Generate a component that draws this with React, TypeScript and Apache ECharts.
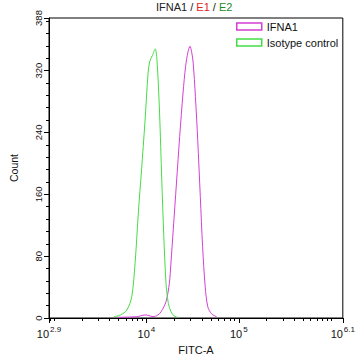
import React, { useEffect, useRef } from "react";
import * as echarts from "echarts";

// FITC-A axis in log10 units
const xMin = 2.945;
const xMax = 6.126;
const xMajorTicks = [2.945, 4, 5, 6.126];
const xMajorExponents = ["2.9", "4", "5", "6.1"];

const yMin = 0;
const yMax = 388;
const yTickLabels = [0, 80, 160, 240, 320, 388];
const yMinorTicks = [16, 32, 48, 64, 96, 112, 128, 144, 176, 192, 208, 224, 256, 272, 288, 304, 336, 352, 368, 384];

// Isotype control (green)
const isotypeLogX = [3.647, 3.718, 3.788, 3.841, 3.877, 3.912, 3.947, 3.983, 4.018, 4.036, 4.064, 4.095, 4.116, 4.142, 4.166, 4.188, 4.212, 4.237, 4.265, 4.3, 4.336];
const isotypeCount = [1.7, 3.9, 10.4, 27.6, 70.9, 135.6, 191.7, 252.2, 317, 332, 339.4, 348, 330, 265, 178.8, 105.3, 44.9, 19, 8.2, 2.6, 0.9];

// IFNA1 (magenta)
const ifna1LogX = [3.682, 3.894, 3.983, 4.018, 4.071, 4.124, 4.159, 4.212, 4.248, 4.265, 4.29, 4.325, 4.36, 4.396, 4.424, 4.449, 4.471, 4.488, 4.506, 4.53, 4.555, 4.583, 4.608, 4.636, 4.664, 4.706, 4.759];
const ifna1Count = [0.9, 1.7, 3.9, 3.5, 1.7, 3.9, 8.2, 21.1, 44.9, 70.9, 114, 174.5, 234.9, 291, 325.6, 343.7, 351.4, 345, 329.9, 286.7, 230.6, 157.1, 92.4, 40.5, 14.6, 5.2, 1.7];

const seriesNames = ["IFNA1", "Isotype control"];
const MAGENTA = "#d43fd4";
const GREEN = "#44dd44";
const FONT = "'Liberation Sans', Arial, sans-serif";

function minorXTicks(): number[] {
  const out: number[] = [];
  for (let n = 2; n <= 6; n++) {
    for (let k = 1; k <= 9; k++) {
      const v = Math.log10(k * Math.pow(10, n));
      if (v > xMin + 0.001 && v < xMax - 0.001 && v !== 4 && v !== 5) out.push(v);
    }
  }
  return out;
}

export default function App() {
  const ref = useRef<HTMLDivElement>(null);
  useEffect(() => {
    if (!ref.current) return;
    const chart = echarts.init(ref.current, null, { renderer: "svg" });
    const zip = (xs: number[], ys: number[]) => xs.map((x, i) => [x, ys[i]]);
    chart.setOption({
      animation: false,
      textStyle: { fontFamily: FONT },
      title: {
        text: "{a|IFNA1} {a|/} {b|E1} {a|/} {c|E2}",
        left: 156,
        top: 1,
        padding: 0,
        textStyle: {
          fontFamily: FONT,
          fontSize: 11,
          fontWeight: "normal",
          rich: {
            a: { fontSize: 11, color: "#222", fontFamily: FONT },
            b: { fontSize: 11, color: "#e02424", fontFamily: FONT },
            c: { fontSize: 11, color: "#1f8a1f", fontFamily: FONT },
          },
        },
      },
      legend: {
        orient: "vertical",
        left: 236,
        top: 20,
        padding: 0,
        itemWidth: 25,
        itemHeight: 7,
        itemGap: 3,
        icon: "rect",
        textStyle: { fontFamily: FONT, fontSize: 11, color: "#111", lineHeight: 13 },
        data: [
          { name: seriesNames[0], itemStyle: { color: "#fff", borderColor: MAGENTA, borderWidth: 1.5 } },
          { name: seriesNames[1], itemStyle: { color: "#fff", borderColor: GREEN, borderWidth: 1.5 } },
        ],
      },
      grid: {
        left: 44,
        right: 14,
        top: 18,
        bottom: 43,
        show: true,
        borderColor: "#000",
        borderWidth: 1,
        backgroundColor: "transparent",
      },
      xAxis: [
        {
          type: "value",
          min: xMin,
          max: xMax,
          name: "FITC-A",
          nameLocation: "middle",
          nameGap: 18,
          nameTextStyle: { fontFamily: FONT, fontSize: 11, color: "#111" },
          axisLine: { show: true, lineStyle: { color: "#000", width: 1 } },
          axisTick: { show: true, length: 5, customValues: xMajorTicks, lineStyle: { color: "#000" } },
          axisLabel: {
            customValues: xMajorTicks,
            margin: 7,
            formatter: (v: number) => {
              const i = xMajorTicks.findIndex((t) => Math.abs(t - v) < 1e-6);
              return "{b|10}{s|" + (i >= 0 ? xMajorExponents[i] : "") + "}";
            },
            rich: {
              b: { fontSize: 11, color: "#111", lineHeight: 18, fontFamily: FONT },
              s: { fontSize: 8, color: "#111", lineHeight: 8, verticalAlign: "top", fontFamily: FONT, padding: [0, 0, 0, 1] },
            },
          },
          splitLine: { show: false },
        },
        {
          type: "value",
          min: xMin,
          max: xMax,
          position: "bottom",
          axisLine: { show: false },
          axisTick: { show: true, length: 3, customValues: minorXTicks(), lineStyle: { color: "#000" } },
          axisLabel: { show: false },
          splitLine: { show: false },
        },
      ],
      yAxis: [
        {
          type: "value",
          min: yMin,
          max: yMax,
          name: "Count",
          nameLocation: "middle",
          nameGap: 30,
          nameTextStyle: { fontFamily: FONT, fontSize: 10.5, color: "#111" },
          axisLine: { show: true, lineStyle: { color: "#000", width: 1 } },
          axisTick: { show: true, length: 5, customValues: yTickLabels, lineStyle: { color: "#000" } },
          axisLabel: {
            customValues: yTickLabels,
            rotate: 90,
            margin: 6,
            fontSize: 9.5,
            color: "#111",
            fontFamily: FONT,
          },
          splitLine: { show: false },
        },
        {
          type: "value",
          min: yMin,
          max: yMax,
          position: "left",
          axisLine: { show: false },
          axisTick: { show: true, length: 3, customValues: yMinorTicks, lineStyle: { color: "#000" } },
          axisLabel: { show: false },
          splitLine: { show: false },
        },
      ],
      series: [
        {
          name: seriesNames[0],
          type: "line",
          data: zip(ifna1LogX, ifna1Count),
          smooth: 0.3,
          showSymbol: false,
          symbol: "none",
          lineStyle: { color: MAGENTA, width: 1 },
          itemStyle: { color: MAGENTA },
        },
        {
          name: seriesNames[1],
          type: "line",
          data: zip(isotypeLogX, isotypeCount),
          smooth: 0.3,
          showSymbol: false,
          symbol: "none",
          lineStyle: { color: GREEN, width: 1 },
          itemStyle: { color: GREEN },
        },
      ],
    });
    return () => chart.dispose();
  }, []);
  return (
    <div
      ref={ref}
      style={{ position: "fixed", left: 0, top: 0, width: 358, height: 361, background: "#fff" }}
    />
  );
}
